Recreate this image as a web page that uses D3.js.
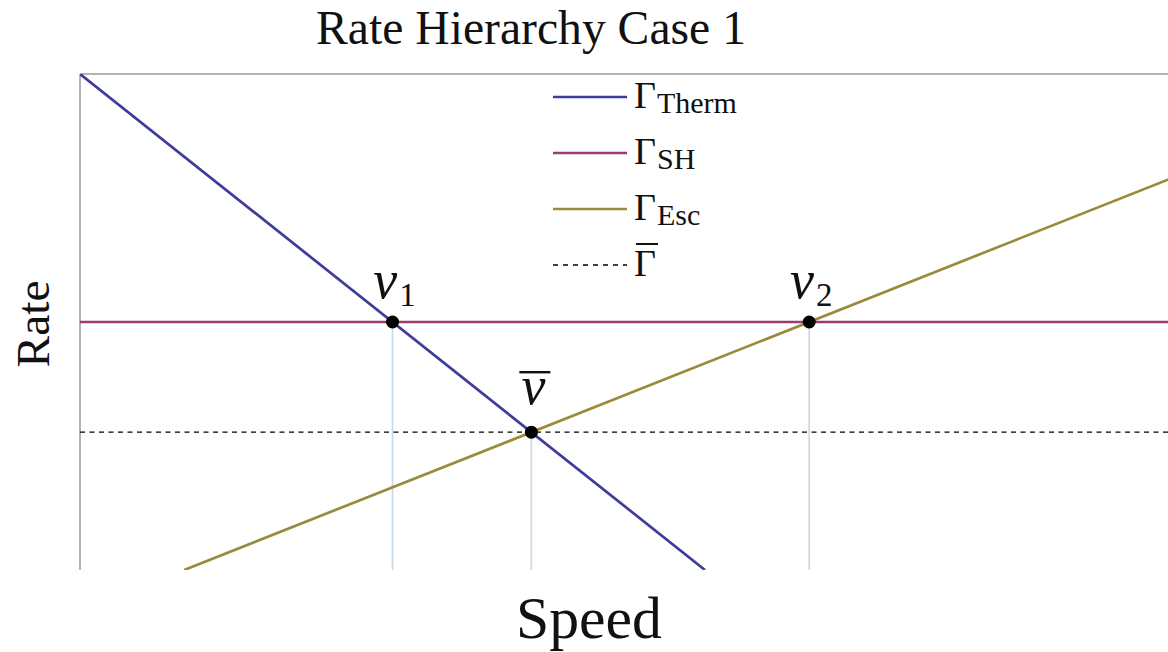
<!DOCTYPE html>
<html>
<head>
<meta charset="utf-8">
<script src="https://cdn.jsdelivr.net/npm/d3@7"></script>
<style>
  html, body { margin: 0; padding: 0; background: #fff; }
  svg { display: block; }
  text { font-family: "Liberation Serif", "DejaVu Serif", serif; fill: #111; }
</style>
</head>
<body>
<svg id="chart" width="1168" height="652"></svg>
<script>
// Rate curves as (speed, rate) endpoint pairs
const thermRate = [{ v: 0, r: 1.0 }, { v: 1.0, r: 0.0 }];
const shRate    = [{ v: 0, r: 0.5 }, { v: 1.75, r: 0.5 }];
const escRate   = [{ v: 0.1667, r: 0.0 }, { v: 1.75, r: 0.7917 }];
const meanRate  = [{ v: 0, r: 0.2778 }, { v: 1.75, r: 0.2778 }];

// Crossing points of the curves
const crossings = [
  { name: "v", sub: "1", bar: false, v: 0.5,    r: 0.5 },
  { name: "v", sub: "",  bar: true,  v: 0.7222, r: 0.2778 },
  { name: "v", sub: "2", bar: false, v: 1.1667, r: 0.5 }
];

const legendItems = [
  { sub: "Therm", color: "#3d3d99", dashed: false, bar: false },
  { sub: "SH",    color: "#9c3b70", dashed: false, bar: false },
  { sub: "Esc",   color: "#9a8b3b", dashed: false, bar: false },
  { sub: "",      color: "#000",    dashed: true,  bar: true }
];

const xDomain = [0, 1.7408];
const yDomain = [0, 1];

const svg = d3.select("#chart");
const m = { left: 80, right: 1168, top: 74, bottom: 570 };

const x = d3.scaleLinear().domain(xDomain).range([m.left, m.right]);
const y = d3.scaleLinear().domain(yDomain).range([m.bottom, m.top]);

svg.append("clipPath").attr("id", "plotclip")
  .append("rect").attr("x", m.left).attr("y", m.top)
  .attr("width", m.right - m.left).attr("height", m.bottom - m.top);

// Frame: left and top edges
svg.append("line").attr("x1", m.left).attr("x2", m.left).attr("y1", m.top).attr("y2", m.bottom)
  .attr("stroke", "#9a9a9a").attr("stroke-width", 1.5);
svg.append("line").attr("x1", m.left).attr("x2", m.right).attr("y1", m.top).attr("y2", m.top)
  .attr("stroke", "#9a9a9a").attr("stroke-width", 1.5);

const plot = svg.append("g").attr("clip-path", "url(#plotclip)");

// Drop lines from crossings to the speed axis
plot.selectAll("line.drop").data(crossings).join("line")
  .attr("class", "drop")
  .attr("x1", d => x(d.v)).attr("x2", d => x(d.v))
  .attr("y1", d => y(d.r)).attr("y2", y(0))
  .attr("stroke", "#c9d8e6").attr("stroke-width", 1.6);

const line = d3.line().x(d => x(d.v)).y(d => y(d.r));

plot.append("path").datum(meanRate).attr("d", line)
  .attr("fill", "none").attr("stroke", "#000").attr("stroke-width", 1.3)
  .attr("stroke-dasharray", "5,4.5");
plot.append("path").datum(shRate).attr("d", line)
  .attr("fill", "none").attr("stroke", legendItems[1].color).attr("stroke-width", 2.7);
plot.append("path").datum(escRate).attr("d", line)
  .attr("fill", "none").attr("stroke", legendItems[2].color).attr("stroke-width", 2.7);
plot.append("path").datum(thermRate).attr("d", line)
  .attr("fill", "none").attr("stroke", legendItems[0].color).attr("stroke-width", 2.7);

// Crossing markers
svg.selectAll("circle.cross").data(crossings).join("circle")
  .attr("class", "cross")
  .attr("cx", d => x(d.v)).attr("cy", d => y(d.r)).attr("r", 6.5)
  .attr("fill", "#000");

// Crossing labels
crossings.forEach(d => {
  const t = svg.append("text")
    .attr("x", x(d.v) + 2)
    .attr("y", y(d.r) - (d.bar ? 28 : 24))
    .attr("text-anchor", "middle")
    .style("font-size", "54px");
  t.append("tspan").style("font-style", "italic").text(d.name);
  if (d.sub) t.append("tspan").style("font-size", "33px").attr("dy", 8).attr("dx", 2).text(d.sub);
  if (d.bar) {
    svg.append("line")
      .attr("x1", x(d.v) - 12).attr("x2", x(d.v) + 19)
      .attr("y1", y(d.r) - 60).attr("y2", y(d.r) - 60)
      .attr("stroke", "#111").attr("stroke-width", 2.4);
  }
});

// Legend
const legend = svg.append("g");
legendItems.forEach((d, i) => {
  const ly = 97 + i * 56;
  legend.append("line")
    .attr("x1", 553).attr("x2", 627).attr("y1", ly).attr("y2", ly)
    .attr("stroke", d.color)
    .attr("stroke-width", d.dashed ? 1.3 : 2.7)
    .attr("stroke-dasharray", d.dashed ? "5,5" : null);
  const t = legend.append("text").attr("x", 634).attr("y", ly + 11)
    .style("font-size", "38px");
  t.append("tspan").text("\u0393");
  if (d.sub) t.append("tspan").attr("dy", 5).attr("dx", 1).style("font-size", "30px").text(d.sub);
  if (d.bar) {
    legend.append("line").attr("x1", 636).attr("x2", 658)
      .attr("y1", ly - 21).attr("y2", ly - 21)
      .attr("stroke", "#111").attr("stroke-width", 2);
  }
});

// Size a label so its advance width fills the given span
function fitText(sel, baseSize, span) {
  sel.style("font-size", baseSize + "px");
  const w = sel.node().getComputedTextLength();
  sel.style("font-size", (baseSize * span / w).toFixed(2) + "px");
  return sel;
}

// Titles
fitText(svg.append("text").attr("x", 531).attr("y", 44).attr("text-anchor", "middle")
  .text("Rate Hierarchy Case 1"), 44, 430);
fitText(svg.append("text").attr("x", 589).attr("y", 638).attr("text-anchor", "middle")
  .text("Speed"), 56, 146);
fitText(svg.append("text").attr("transform", "translate(49,324) rotate(-90)")
  .attr("text-anchor", "middle").text("Rate"), 44, 87);
</script>
</body>
</html>
